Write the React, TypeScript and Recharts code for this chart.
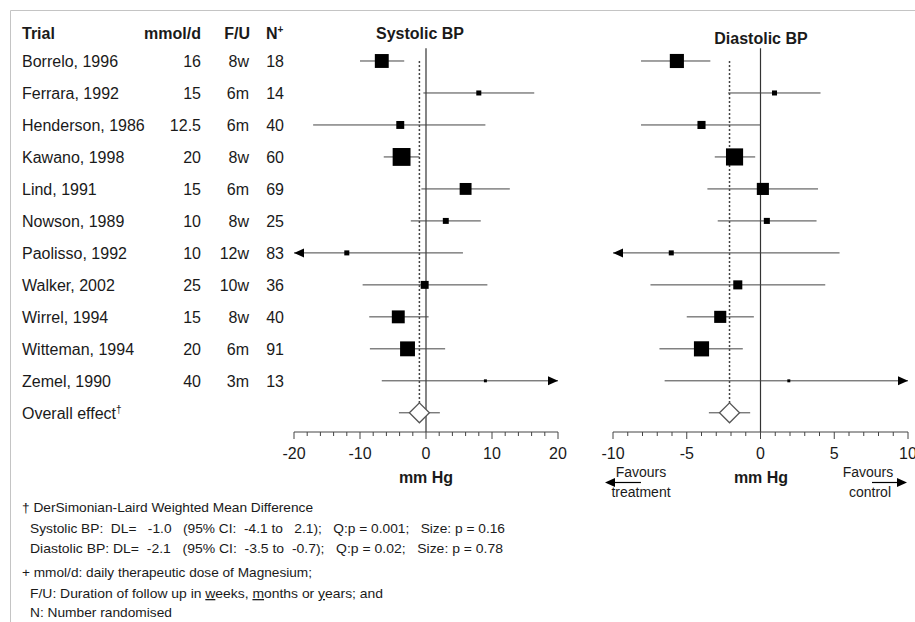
import React from 'react';
import { ScatterChart, Scatter, XAxis, YAxis, ReferenceLine } from 'recharts';

const trials = [
  'Borrelo, 1996', 'Ferrara, 1992', 'Henderson, 1986', 'Kawano, 1998', 'Lind, 1991', 'Nowson, 1989',
  'Paolisso, 1992', 'Walker, 2002', 'Wirrel, 1994', 'Witteman, 1994', 'Zemel, 1990',
];
const doses = ['16', '15', '12.5', '20', '15', '10', '10', '25', '15', '20', '40'];
const followUp = ['8w', '6m', '6m', '8w', '6m', '8w', '12w', '10w', '8w', '6m', '3m'];
const randomised = ['18', '14', '40', '60', '69', '25', '83', '36', '40', '91', '13'];

// systolic BP, mm Hg (clipped CIs carry an arrow)
const sysMean = [-6.7, 8.0, -3.9, -3.7, 6.0, 3.0, -12.0, -0.2, -4.2, -2.8, 9.0];
const sysLow = [-10.0, -0.4, -17.1, -6.4, -0.7, -2.3, -20, -9.6, -8.6, -8.5, -6.7];
const sysHigh = [-3.3, 16.4, 9.0, -1.0, 12.7, 8.3, 5.6, 9.3, 0.4, 2.9, 20];
const sysWeight = [15.3, 2.0, 5.0, 25.3, 11.2, 2.8, 2.0, 5.0, 13.2, 17.6, 0.7];
const sysArrow = ['', '', '', '', '', '', 'left', '', '', '', 'right'];
const sysOverall = { mean: -1.0, low: -4.1, high: 2.1 };
const sysTicks = [-20, -18, -16, -14, -12, -10, -8, -6, -4, -2, 0, 2, 4, 6, 8, 10, 12, 14, 16, 18, 20];
const sysMajor = [-20, -10, 0, 10, 20];

// diastolic BP, mm Hg
const diaMean = [-5.67, 0.95, -4.0, -1.76, 0.16, 0.43, -6.05, -1.54, -2.73, -4.0, 1.92];
const diaLow = [-8.1, -2.2, -8.1, -3.1, -3.6, -2.9, -10, -7.46, -5.0, -6.85, -6.5];
const diaHigh = [-3.4, 4.07, 0.0, -0.36, 3.9, 3.8, 5.36, 4.39, -0.45, -1.2, 10];
const diaWeight = [15.8, 2.0, 5.2, 23.3, 11.6, 2.9, 2.0, 6.5, 11.6, 18.2, 0.7];
const diaArrow = ['', '', '', '', '', '', 'left', '', '', '', 'right'];
const diaOverall = { mean: -2.1, low: -3.5, high: -0.7 };
const diaTicks = [-10, -9, -8, -7, -6, -5, -4, -3, -2, -1, 0, 1, 2, 3, 4, 5, 6, 7, 8, 9, 10];
const diaMajor = [-10, -5, 0, 5, 10];

const FONT = 'Arial, "Liberation Sans", Helvetica, sans-serif';
const INK = '#1a1a1a';
const sp = (n: number) => '\u00a0'.repeat(n);

const Square = (props: any) => {
  const { cx, cy, payload } = props;
  const s = Math.sqrt(payload.w) * 3.55;
  return <rect x={cx - s / 2} y={cy - s / 2} width={s} height={s} fill="#000" />;
};

const Arrow = (props: any) => {
  const { cx, cy, payload } = props;
  const d = payload.dir === 'left' ? -1 : 1;
  return (
    <polygon
      points={`${cx},${cy} ${cx - d * 10},${cy - 4.5} ${cx - d * 10},${cy + 4.5}`}
      fill="#000"
    />
  );
};

const Diamond = (props: any) => {
  const { cx, cy } = props;
  return (
    <polygon
      points={`${cx - 10},${cy} ${cx},${cy - 10} ${cx + 10},${cy} ${cx},${cy + 10}`}
      fill="#fff"
      stroke="#555"
      strokeWidth={1.3}
    />
  );
};

const makeTick = (major: number[]) => (props: any) => {
  const { x, y, payload } = props;
  const isMajor = major.includes(payload.value);
  return (
    <g>
      <line x1={x} x2={x} y1={y} y2={y + (isMajor ? 7 : 4)} stroke="#444" strokeWidth={1} />
      {isMajor && (
        <text x={x} y={y + 27} textAnchor="middle" fontSize={16} fill={INK} fontFamily={FONT}>
          {payload.value}
        </text>
      )}
    </g>
  );
};

interface PanelProps {
  left: number;
  width: number;
  margin: { top: number; right: number; bottom: number; left: number };
  domain: [number, number];
  ticks: number[];
  major: number[];
  mean: number[];
  low: number[];
  high: number[];
  weight: number[];
  arrow: string[];
  overall: { mean: number; low: number; high: number };
}

function ForestPanel(p: PanelProps) {
  const rows = p.mean.map((m, i) => ({ x: m, y: i, lo: p.low[i], hi: p.high[i], w: p.weight[i] }));
  const arrows = p.arrow
    .map((dir, i) => ({ dir, y: i, x: dir === 'left' ? p.low[i] : p.high[i] }))
    .filter((a) => a.dir);
  const overallRow = trials.length;
  return (
    <div style={{ position: 'absolute', left: p.left, top: 0 }}>
      <ScatterChart width={p.width} height={470} margin={p.margin}>
        <XAxis
          type="number"
          dataKey="x"
          domain={p.domain}
          ticks={p.ticks}
          interval={0}
          allowDataOverflow
          tickSize={0}
          tickMargin={0}
          tickLine={false}
          axisLine={{ stroke: '#444' }}
          tick={makeTick(p.major)}
          height={30}
        />
        <YAxis type="number" dataKey="y" domain={[-0.5, 11.6]} reversed hide allowDataOverflow />
        <ReferenceLine
          segment={[{ x: 0, y: -0.4 }, { x: 0, y: 11.6 }]}
          stroke="#333"
          strokeWidth={1.2}
        />
        <ReferenceLine
          segment={[{ x: p.overall.mean, y: 0 }, { x: p.overall.mean, y: overallRow + 0.25 }]}
          stroke="#444"
          strokeWidth={1.5}
          strokeDasharray="2 2"
        />
        {rows.map((r) => (
          <ReferenceLine
            key={r.y}
            segment={[{ x: r.lo, y: r.y }, { x: r.hi, y: r.y }]}
            stroke="#444"
            strokeWidth={1}
          />
        ))}
        <ReferenceLine
          segment={[{ x: p.overall.low, y: overallRow }, { x: p.overall.high, y: overallRow }]}
          stroke="#444"
          strokeWidth={1}
        />
        <Scatter data={rows} shape={Square} isAnimationActive={false} />
        <Scatter data={arrows} shape={Arrow} isAnimationActive={false} />
        <Scatter data={[{ x: p.overall.mean, y: overallRow }]} shape={Diamond} isAnimationActive={false} />
      </ScatterChart>
    </div>
  );
}

const rowY = (i: number) => 61 + 32 * i + 6;

export default function App() {
  return (
    <div style={{ position: 'absolute', left: 0, top: 0, width: 915, height: 622, background: '#fff', overflow: 'hidden' }}>
      <ForestPanel
        left={270}
        width={320}
        margin={{ top: 45, right: 32, bottom: 8, left: 24 }}
        domain={[-20, 20]}
        ticks={sysTicks}
        major={sysMajor}
        mean={sysMean}
        low={sysLow}
        high={sysHigh}
        weight={sysWeight}
        arrow={sysArrow}
        overall={sysOverall}
      />
      <ForestPanel
        left={590}
        width={325}
        margin={{ top: 45, right: 7, bottom: 8, left: 23 }}
        domain={[-10, 10]}
        ticks={diaTicks}
        major={diaMajor}
        mean={diaMean}
        low={diaLow}
        high={diaHigh}
        weight={diaWeight}
        arrow={diaArrow}
        overall={diaOverall}
      />
      <svg
        width={915}
        height={622}
        style={{ position: 'absolute', left: 0, top: 0, pointerEvents: 'none' }}
        fontFamily={FONT}
        fill={INK}
      >
        <line x1={10.5} y1={10.5} x2={915} y2={10.5} stroke="#c4c4c4" />
        <line x1={10.5} y1={10.5} x2={10.5} y2={622} stroke="#c4c4c4" />

        <g fontSize={16} fontWeight="bold">
          <text x={22} y={39}>Trial</text>
          <text x={201} y={39} textAnchor="end">mmol/d</text>
          <text x={250} y={39} textAnchor="end">F/U</text>
          <text x={266} y={39}>
            N<tspan fontSize={10} dy={-6}>+</tspan>
          </text>
          <text x={420} y={39} textAnchor="middle">Systolic BP</text>
          <text x={761} y={44} textAnchor="middle">Diastolic BP</text>
          <text x={426} y={483} textAnchor="middle">mm Hg</text>
          <text x={761} y={483} textAnchor="middle">mm Hg</text>
        </g>

        <g fontSize={16}>
          {trials.map((t, i) => (
            <g key={t}>
              <text x={22} y={rowY(i)}>{t}</text>
              <text x={201} y={rowY(i)} textAnchor="end">{doses[i]}</text>
              <text x={249} y={rowY(i)} textAnchor="end">{followUp[i]}</text>
              <text x={284} y={rowY(i)} textAnchor="end">{randomised[i]}</text>
            </g>
          ))}
          <text x={22} y={rowY(trials.length)}>
            Overall effect<tspan fontSize={10} dy={-6}>†</tspan>
          </text>
        </g>

        <g fontSize={14}>
          <text x={641} y={477} textAnchor="middle">Favours</text>
          <text x={641} y={497} textAnchor="middle">treatment</text>
          <text x={868} y={477} textAnchor="middle">Favours</text>
          <text x={870} y={497} textAnchor="middle">control</text>
        </g>
        <line x1={614} y1={482.5} x2={641} y2={482.5} stroke="#000" strokeWidth={1.2} />
        <polygon points="605,482.5 615,478 615,487" fill="#000" />
        <line x1={872} y1={482.5} x2={898} y2={482.5} stroke="#000" strokeWidth={1.2} />
        <polygon points="907,482.5 897,478 897,487" fill="#000" />

        <g fontSize={13}>
          <text x={22} y={512} textLength={291} lengthAdjust="spacingAndGlyphs">
            † DerSimonian-Laird Weighted Mean Difference
          </text>
          <text x={30} y={533} textLength={475} lengthAdjust="spacingAndGlyphs">
            {`Systolic BP:${sp(2)}DL=${sp(3)}-1.0${sp(3)}(95% CI:${sp(2)}-4.1 to${sp(3)}2.1);${sp(3)}Q:p = 0.001;${sp(3)}Size: p = 0.16`}
          </text>
          <text x={30} y={553} textLength={473} lengthAdjust="spacingAndGlyphs">
            {`Diastolic BP: DL=${sp(2)}-2.1${sp(3)}(95% CI:${sp(2)}-3.5 to${sp(2)}-0.7);${sp(3)}Q:p = 0.02;${sp(3)}Size: p = 0.78`}
          </text>
          <text x={22} y={577} textLength={290} lengthAdjust="spacingAndGlyphs">
            + mmol/d: daily therapeutic dose of Magnesium;
          </text>
          <text x={30} y={598} textLength={353} lengthAdjust="spacingAndGlyphs">
            {'F/U: Duration of follow up in '}
            <tspan textDecoration="underline">w</tspan>
            {'eeks, '}
            <tspan textDecoration="underline">m</tspan>
            {'onths or '}
            <tspan textDecoration="underline">y</tspan>
            {'ears; and'}
          </text>
          <text x={30} y={617} textLength={142} lengthAdjust="spacingAndGlyphs">
            N: Number randomised
          </text>
        </g>
      </svg>
    </div>
  );
}
